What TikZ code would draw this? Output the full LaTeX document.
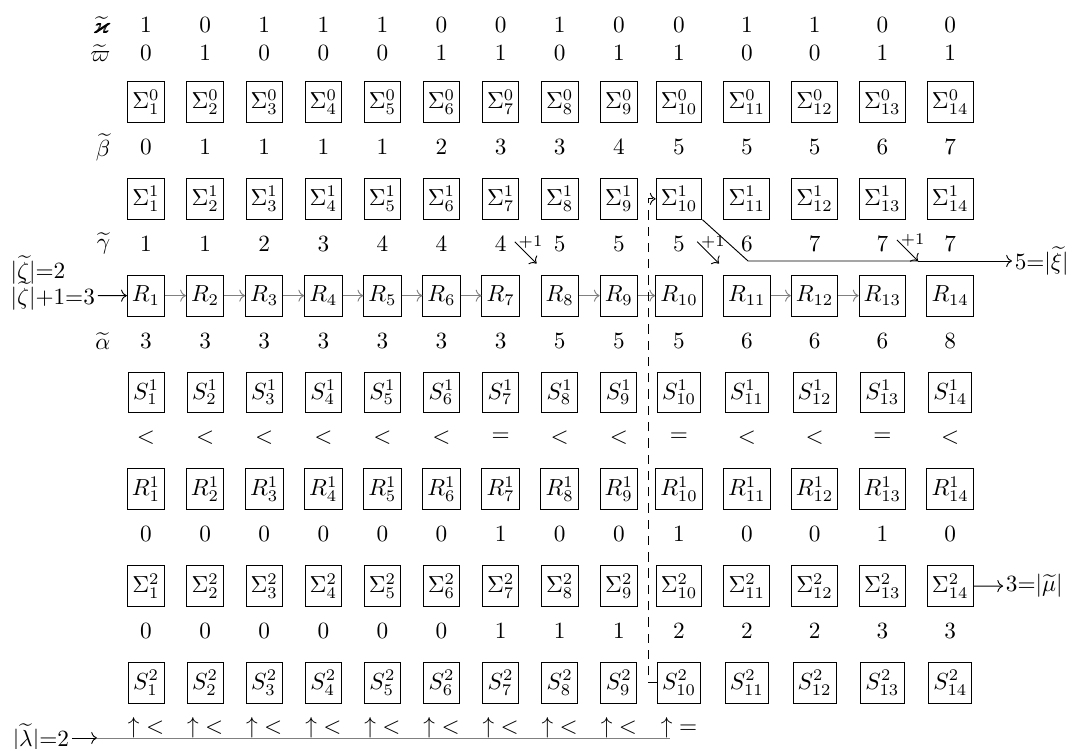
\documentclass[tikz,border=0pt]{standalone}
\usepackage{amsmath,amssymb}
\usetikzlibrary{arrows.meta}

\begin{document}
\begin{tikzpicture}[
    box/.style={draw, inner xsep=2pt, inner ysep=2pt, minimum width=15.5pt, minimum height=17.5pt},
    val/.style={inner sep=0pt},
    lbl/.style={inner sep=1pt},
    eins/.style={inner sep=1.5pt, font=\scriptsize},
    kette/.style={->, draw=gray},
    >=To]

    \useasboundingbox (0,0) rectangle (16.186,-11.305);

    % sloupce
    \foreach \i in {1,...,14} {
        \pgfmathsetmacro{\sx}{\i<10 ? 2.207+0.8932*(\i-1) : 10.262+1.0247*(\i-10)}
        \coordinate (c\i) at (\sx,0);
    }

    % radky s hodnotami
    \node[lbl, anchor=east] (lkap) at (1.708,-0.378) {$\widetilde{\pmb{\varkappa}}$};
    \node[lbl, anchor=east] (lpi) at (1.708,-0.801) {$\widetilde{\varpi}$};
    \node[lbl, anchor=east] (lbe) at (1.708,-2.222) {$\widetilde{\beta}$};
    \node[lbl, anchor=east] (lga) at (1.708,-3.685) {$\widetilde{\gamma}$};
    \node[lbl, anchor=east] (lal) at (1.708,-5.148) {$\widetilde{\alpha}$};
    \foreach \nm/\y/\vals in {
        kap/-0.378/{1,0,1,1,1,0,0,1,0,0,1,1,0,0},
        pi/-0.801/{0,1,0,0,0,1,1,0,1,1,0,0,1,1},
        be/-2.222/{0,1,1,1,1,2,3,3,4,5,5,5,6,7},
        ga/-3.685/{1,1,2,3,4,4,4,5,5,5,6,7,7,7},
        al/-5.148/{3,3,3,3,3,3,3,5,5,5,6,6,6,8},
        rel/-6.611/{<,<,<,<,<,<,=,<,<,=,<,<,=,<},
        bit/-8.074/{0,0,0,0,0,0,1,0,0,1,0,0,1,0},
        cnt/-9.537/{0,0,0,0,0,0,1,1,1,2,2,2,3,3}}
        \foreach \v [count=\i] in \vals
            \node[val] (\nm-\i) at ([yshift=\y cm]c\i) {$\v$};

    % radky s ramecky
    \foreach \nm/\sym/\y in {sig0/\Sigma^0/-1.542, sig1/\Sigma^1/-3.005, r/R/-4.468,
        s1/S^1/-5.931, r1/R^1/-7.394, sig2/\Sigma^2/-8.857, s2/S^2/-10.319}
        \foreach \i in {1,...,14}
            \node[box] (\nm-\i) at ([yshift=\y cm]c\i) {$\sym_{\i}$};

    % retez R
    \node[lbl, anchor=west] (zeta) at (0.12,-4.081) {$|\widetilde{\zeta}|{=}2$};
    \node[lbl, anchor=west] (zetajedna) at (0.12,-4.468) {$|\widetilde{\zeta}|{+}1{=}3$};
    \draw[->] (zetajedna) -- (r-1);
    \foreach \a/\b in {1/2,2/3,3/4,4/5,5/6,6/7,8/9,9/10,11/12,12/13}
        \draw[kette] (r-\a) -- (r-\b);

    % pricteni jednicky
    \foreach \k in {8,11} {
        \coordinate (od\k) at ([shift={(-0.39,0.5)}]r-\k.north west);
        \coordinate (do\k) at ([shift={(-0.06,0.17)}]r-\k.north west);
        \node[eins, anchor=west] (plus\k) at (od\k) {$+1$};
        \draw[->] (od\k) -- (do\k);
    }
    \coordinate (knik) at (11.305,-3.944);
    \coordinate (spoj) at (13.874,-3.944);
    \coordinate (od14) at (13.556,-3.627);
    \node[eins, anchor=west] (plus14) at (od14) {$+1$};
    \draw[->] (od14) -- (spoj);
    \draw (sig1-10.south east) -- (knik) -- (spoj);
    \node[lbl, anchor=west] (xi) at (15.294,-3.944) {$5{=}|\widetilde{\xi}|$};
    \draw[->] (spoj) -- (xi);

    % deleni mezi 9. a 10. sloupcem
    \coordinate (rez) at (9.793,0);
    \draw[dash pattern=on 4pt off 3pt, ->] (s2-10.west) -- (s2-10.west -| rez)
        -- (rez |- sig1-10.west) -- (sig1-10.west);

    % vystup
    \node[lbl, anchor=west] (mu) at (15.16,-8.857) {$3{=}|\widetilde{\mu}|$};
    \draw[->] (sig2-14) -- (mu);

    % porovnani S^2
    \foreach \r [count=\i] in {<,<,<,<,<,<,<,<,<,=}
        \node[val, anchor=base] (sip-\i) at ([yshift=-11.085cm]c\i) {$\uparrow{\r}$};
    \node[lbl, anchor=west] (lam) at (0.151,-11.153) {$|\widetilde{\lambda}|{=}2$};
    \coordinate (lamhrot) at (1.466,-11.153);
    \coordinate (lamkonec) at (10.13,-11.153);
    \draw[->] (lam) -- (lamhrot);
    \draw[gray] (lamhrot) -- (lamkonec);
\end{tikzpicture}
\end{document}
